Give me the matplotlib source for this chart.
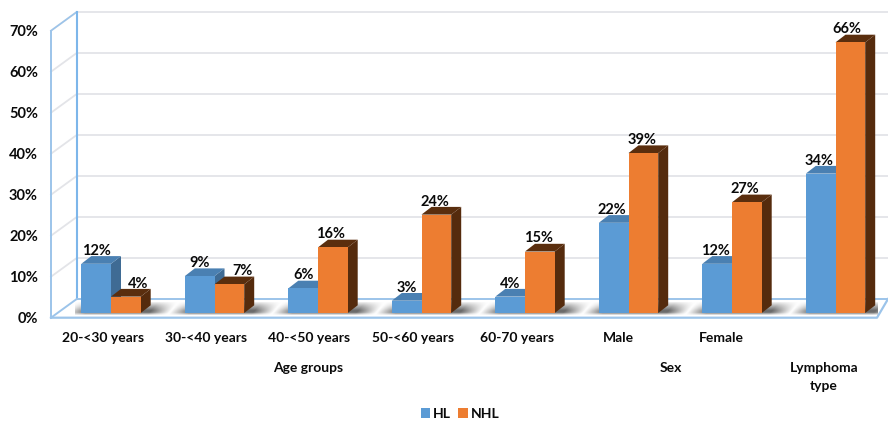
import matplotlib
matplotlib.use('Agg')
import matplotlib.pyplot as plt
from matplotlib.patches import Polygon, Patch
import numpy as np

plt.rcParams['font.family'] = ['Lato', 'DejaVu Sans']
plt.rcParams['font.weight'] = 'bold'

# --- Data ---
categories = ['20-<30 years', '30-<40 years', '40-<50 years', '50-<60 years',
              '60-70 years', 'Male', 'Female', 'Lymphoma\ntype']
hl = [12, 9, 6, 3, 4, 22, 12, 34]
nhl = [4, 7, 16, 24, 15, 39, 27, 66]
group_labels = ['Age groups', 'Sex']
group_pos = [2, 5.5]
y_ticks = [0, 10, 20, 30, 40, 50, 60, 70]

# --- Scale (pixels per data unit, picture is 888x421) ---
W, H = 888, 421
px_x = 103.5
px_y = 4.1
x0_px, y0_px = 111, 313

fig = plt.figure(figsize=(W / 100, H / 100), dpi=100)
ax = fig.add_axes([0, 0, 1, 1])
ax.set_xlim(-x0_px / px_x, (W - x0_px) / px_x)
ax.set_ylim((y0_px - H) / px_y, y0_px / px_y)
ax.axis('off')


def dx(p):
    return p / px_x


def dy(p):
    return p / px_y


# --- Walls and floor ---
bar_w = dx(29.7)
front_x = -dx(60)
back_x = -dx(34.3)
front_y = -dy(4.7)
back_y = dy(14)
right_back = ax.get_xlim()[1]
right_front = dx(766)

grid_col = '#E3E4E8'
axis_col = '#9CC4EA'
for v in y_ticks[1:]:
    ax.plot([front_x, back_x, right_back], [front_y + v, back_y + v, back_y + v],
            color=grid_col, lw=1.3, zorder=1)
ax.plot([front_x, back_x], [front_y + 70, back_y + 70], color=axis_col, lw=1.2, zorder=2)
ax.plot([front_x, front_x], [front_y, front_y + 70], color=axis_col, lw=1.4, zorder=2)
ax.plot([back_x, back_x], [back_y, back_y + 70], color='#7DB6EA', lw=1.5, zorder=2)
ax.plot([front_x, back_x, right_back], [front_y, back_y, back_y], color=axis_col, lw=1.4, zorder=2)
ax.plot([front_x, right_front, right_back], [front_y, front_y, back_y], color=axis_col, lw=1.6, zorder=2)

# --- Soft shadow band on the floor, lighter in the gaps between groups ---
mx = np.arange(-dx(36), dx(768), dx(1))
my = np.arange(-dy(2), dy(12), dy(0.5))
xs, ys = np.meshgrid(mx[:-1] + dx(0.5), my[:-1] + dy(0.25))
gap = xs - ys * (dx(10) / dy(12)) - dx(58)
gap = np.abs(gap - np.round(gap))
fade_x = np.clip(gap / dx(20), 0.03, 1)
fade_y = np.clip((ys + dy(2)) / dy(3), 0, 1) * np.clip((dy(12) - ys) / dy(9), 0, 1)
shade = np.zeros(xs.shape + (4,))
shade[..., :3] = 0.42
shade[..., 3] = fade_x * fade_y
ax.pcolormesh(mx, my, shade, shading='flat', antialiased=False, zorder=3, linewidth=0)


# --- Bars ---
def bar3d(left, value, front, top, side, z):
    right = left + bar_w
    ox, oy = dx(10), dy(7.7)
    ax.add_patch(Polygon([(right, 0), (right + ox, oy), (right + ox, value + oy), (right, value)],
                         closed=True, fc=side, ec='none', zorder=z))
    ax.add_patch(Polygon([(left, value), (left + ox, value + oy), (right + ox, value + oy), (right, value)],
                         closed=True, fc=top, ec='none', zorder=z))
    ax.fill([left, right, right, left], [0, 0, value, value], fc=front, ec='none', zorder=z + 0.1)


blue, orange = '#5B9BD5', '#ED7D31'
for i in range(len(categories)):
    bar3d(i - bar_w, hl[i], blue, '#4A80B2', '#3F6B94', 4)
    bar3d(i, nhl[i], orange, '#5A2E0E', '#552B0D', 5)

# --- Value labels ---
text_col = '#0A0A0A'
hl_nudge = [0, 0, 0, 0, 0, -2, -2, -2]
nhl_nudge = [12, 13, -2, -1, -1, -1, -2, -3]
for i in range(len(categories)):
    ax.annotate('%d%%' % hl[i], (i - bar_w / 2, hl[i]), xytext=(hl_nudge[i] * 0.72, 13 * 0.72),
                textcoords='offset points', ha='center', va='center', fontsize=10.5, color=text_col, zorder=8)
    ax.annotate('%d%%' % nhl[i], (i + bar_w / 2, nhl[i]), xytext=(nhl_nudge[i] * 0.72, 13 * 0.72),
                textcoords='offset points', ha='center', va='center', fontsize=10.5, color=text_col, zorder=8)

# --- Axis labels ---
for v in y_ticks:
    ax.text(front_x - dx(13), v + front_y - dy(1.7), '%d%%' % v, ha='right', va='center',
            fontsize=10.5, color=text_col)
label_shift = [8, 8.6, 9, 8.5, 8, 10.5, 11, 11.5]
for i, name in enumerate(categories):
    if '\n' in name:
        ax.text(i - dx(label_shift[i]), -dy(64), name, ha='center', va='center', fontsize=10,
                color=text_col, linespacing=1.55)
    else:
        ax.text(i - dx(label_shift[i]), -dy(25), name, ha='center', va='center', fontsize=10, color=text_col)
for pos, name in zip(group_pos, group_labels):
    ax.text(pos - dx(9.5), -dy(55), name, ha='center', va='center', fontsize=10, color=text_col)

# --- Legend ---
handles = [Patch(fc=blue, ec='none', label='HL'), Patch(fc=orange, ec='none', label='NHL')]
ax.legend(handles=handles, loc='center', bbox_to_anchor=(460 / W, 1 - 414 / H), ncol=2, frameon=False,
          fontsize=10, handlelength=0.7, handleheight=0.75, handletextpad=0.2, columnspacing=0.5,
          labelcolor=text_col)

fig.savefig('out.png', dpi=100)
